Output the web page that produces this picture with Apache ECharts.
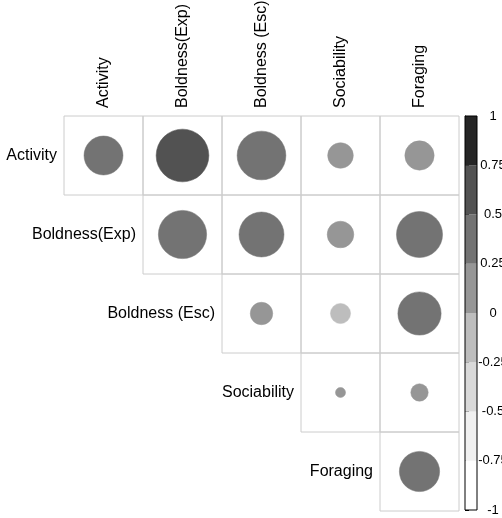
<!DOCTYPE html>
<html>
<head>
<meta charset="utf-8">
<script src="https://cdn.jsdelivr.net/npm/echarts@6/dist/echarts.min.js"></script>
<style>
  html, body { margin: 0; padding: 0; background: #ffffff; }
  #chart { width: 502px; height: 518px; }
</style>
</head>
<body>
<div id="chart"></div>
<script>
// Trait names, shared by rows and columns
const traits = ['Activity', 'Boldness(Exp)', 'Boldness (Esc)', 'Sociability', 'Foraging'];

// Upper-triangle correlations, one array per row (starting at the diagonal)
const rowActivity = [0.30, 0.55, 0.47, 0.13, 0.17];
const rowBoldExp  = [0.46, 0.40, 0.14, 0.42];
const rowBoldEsc  = [0.10, -0.08, 0.37];
const rowSocial   = [0.02, 0.06];
const rowForaging = [0.32];

// Colour scale: break points and one grey per bin
const colorBreaks = [-1, -0.75, -0.5, -0.25, 0, 0.25, 0.5, 0.75, 1];
const binColors = ['#ffffff', '#f0f0f0', '#d9d9d9', '#bdbdbd', '#969696', '#737373', '#525252', '#252525'];

const FONT = 'Liberation Sans, Arial, Helvetica, sans-serif';
const rows = [rowActivity, rowBoldExp, rowBoldEsc, rowSocial, rowForaging];

// [col, row, value] for every upper-triangle cell
const cells = [];
rows.forEach((vals, r) => {
  vals.forEach((v, k) => cells.push([r + k, r, v]));
});

// Colour bar segments: [lower, upper]
const barSegments = binColors.map((c, i) => [colorBreaks[i], colorBreaks[i + 1]]);

const chart = echarts.init(document.getElementById('chart'), null, { renderer: 'canvas' });

chart.setOption({
  backgroundColor: '#ffffff',
  animation: false,
  grid: [
    { left: 64, top: 116, width: 395, height: 395, outerBoundsMode: 'none', containLabel: false },
    {
      left: 465, top: 116, width: 12, height: 394, outerBoundsMode: 'none', containLabel: false,
      show: true, borderColor: '#000000', borderWidth: 1, backgroundColor: 'transparent', z: 5
    }
  ],
  xAxis: [
    {
      gridIndex: 0, type: 'category', data: traits, position: 'top',
      axisLine: { show: false }, axisTick: { show: false }, splitLine: { show: false },
      axisLabel: { rotate: -90, margin: 8, fontSize: 16, color: '#000000', fontFamily: FONT, interval: 0 }
    },
    { gridIndex: 1, type: 'value', min: 0, max: 1, show: false }
  ],
  yAxis: [
    {
      gridIndex: 0, type: 'category', data: traits, inverse: true,
      axisLine: { show: false }, axisTick: { show: false }, axisLabel: { show: false }, splitLine: { show: false }
    },
    {
      gridIndex: 1, type: 'value', min: -1, max: 1, interval: 0.25, position: 'right',
      axisLine: { show: true, lineStyle: { color: '#000000', width: 1 } },
      axisTick: { show: true, length: 4, lineStyle: { color: '#000000', width: 1 } },
      splitLine: { show: false },
      axisLabel: { margin: 16, align: 'center', fontSize: 13, color: '#000000', fontFamily: FONT, hideOverlap: false }
    }
  ],
  visualMap: {
    type: 'piecewise', show: false, dimension: 2, seriesIndex: 1,
    pieces: binColors.map((c, i) => ({ gte: colorBreaks[i], lt: colorBreaks[i + 1] + (i === binColors.length - 1 ? 1e-9 : 0), color: c }))
  },
  series: [
    {
      // cell frames and row names along the diagonal
      type: 'custom', xAxisIndex: 0, yAxisIndex: 0, data: cells, z: 1, silent: true,
      renderItem: function (params, api) {
        const col = api.value(0), row = api.value(1);
        const c = api.coord([col, row]);
        const s = api.size([1, 1]);
        const children = [{
          type: 'rect',
          shape: { x: c[0] - s[0] / 2, y: c[1] - s[1] / 2, width: s[0], height: s[1] },
          style: { fill: 'none', stroke: '#cccccc', lineWidth: 1 }
        }];
        if (col === row) {
          children.push({
            type: 'text',
            style: {
              x: c[0] - s[0] / 2 - 7, y: c[1],
              text: traits[row], align: 'right', verticalAlign: 'middle',
              fontSize: 16, fontFamily: FONT, fill: '#000000'
            }
          });
        }
        return { type: 'group', children: children };
      }
    },
    {
      // circles: area scales with |r|, colour from the bin
      type: 'custom', xAxisIndex: 0, yAxisIndex: 0, data: cells, z: 2, silent: true,
      renderItem: function (params, api) {
        const c = api.coord([api.value(0), api.value(1)]);
        const s = api.size([1, 1]);
        const r = 0.45 * Math.sqrt(Math.abs(api.value(2))) * s[0];
        return {
          type: 'circle',
          shape: { cx: c[0], cy: c[1], r: r },
          style: { fill: api.visual('color'), stroke: api.visual('color'), lineWidth: 0.5 }
        };
      }
    },
    {
      // colour legend bar
      type: 'custom', xAxisIndex: 1, yAxisIndex: 1, data: barSegments, z: 1, silent: true,
      renderItem: function (params, api) {
        const top = api.coord([0, api.value(1)]);
        const bot = api.coord([1, api.value(0)]);
        return {
          type: 'rect',
          shape: { x: top[0], y: top[1], width: bot[0] - top[0], height: bot[1] - top[1] },
          style: { fill: binColors[params.dataIndex] }
        };
      }
    }
  ]
});
</script>
</body>
</html>
